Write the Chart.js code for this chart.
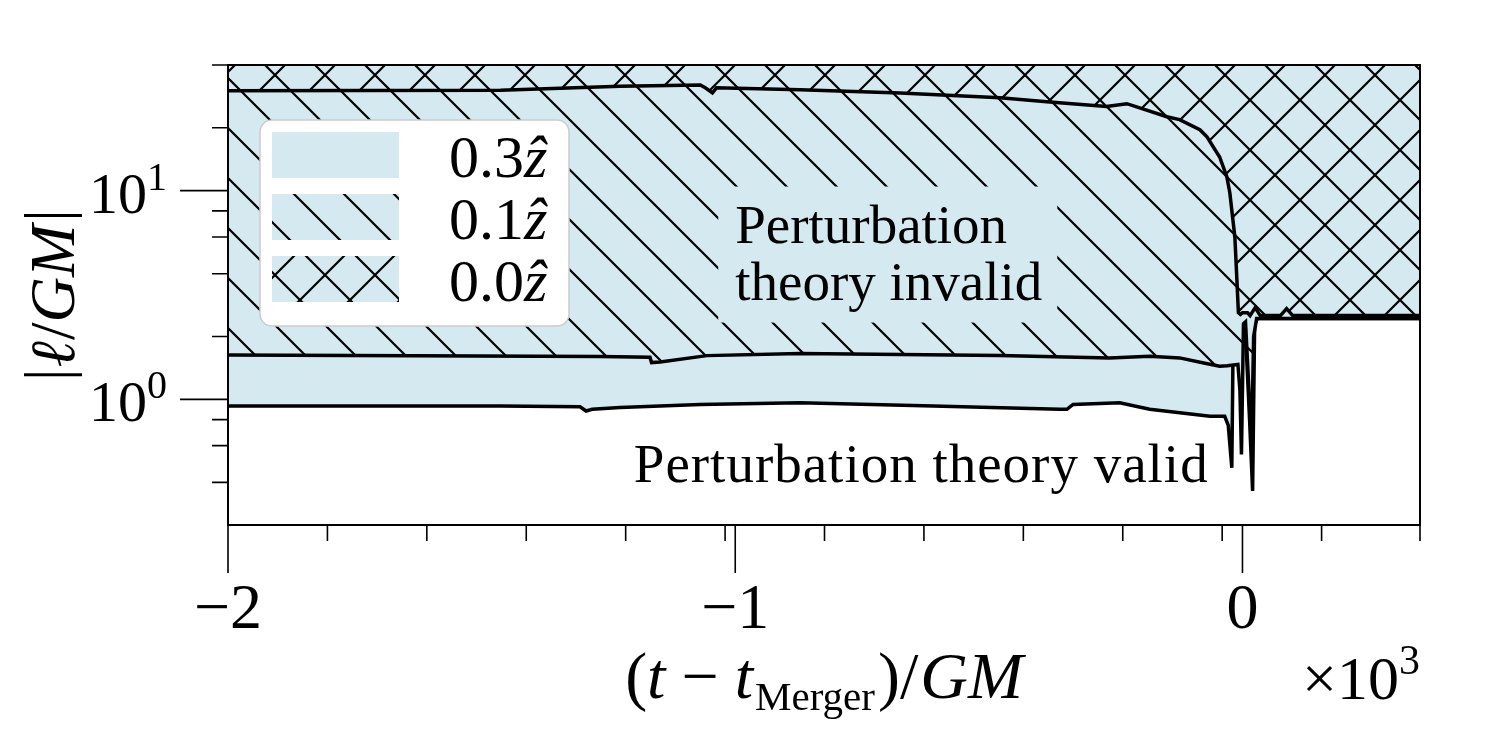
<!DOCTYPE html>
<html>
<head>
<meta charset="utf-8">
<script src="https://cdn.jsdelivr.net/npm/chart.js@4.4.0/dist/chart.umd.min.js"></script>
<style>
  html, body { margin: 0; padding: 0; background: #fff; }
  canvas { display: block; }
</style>
</head>
<body>
<canvas id="chart" width="1485" height="735"></canvas>
<script>
// time after merger, (t - t_merger)/GM, and |l/GM| for the three spin values
const lowerT = [-2000, -1463, -1306, -1294, -1282, -1227, -1069, -872, -610, -360, -346, -334, -242, -183, -98, -64, -35, -28, -21, -18, 5, 14, 20, 24, 30, 350];
const lowerL = [0.929, 0.929, 0.921, 0.879, 0.896, 0.913, 0.946, 0.964, 0.929, 0.896, 0.896, 0.946, 0.962, 0.896, 0.848, 0.829, 0.829, 0.75, 0.47, 2.3, 2.35, 0.8, 0.364, 2.3, 2.44, 2.44];

const middleT = [-2000, -1266, -1168, -1165, -1148, -1056, -872, -675, -478, -262, -183, -124, -74, -45, -30, -9, -5, -2, 2, 6, 12, 18, 22, 28, 350];
const middleL = [1.633, 1.606, 1.59, 1.50, 1.51, 1.62, 1.66, 1.64, 1.62, 1.58, 1.61, 1.58, 1.49, 1.44, 1.45, 1.47, 1.1, 0.545, 2.3, 2.35, 1.2, 0.6, 2.0, 2.44, 2.44];

const upperT = [-2000, -1463, -1227, -1069, -1059, -1045, -1037, -872, -675, -478, -386, -268, -228, -149, -124, -84, -70, -45, -31, -25, -15, -11, -8, -4, 0, 10, 15, 25, 35, 75, 87, 99, 350];
const upperL = [30.1, 30.3, 31.6, 32.1, 31.1, 29.4, 31.1, 30.4, 29.4, 27.9, 26.7, 25.3, 26.1, 22.6, 21.9, 19.6, 18.1, 14.5, 11.7, 9.8, 6.0, 3.75, 2.6, 2.55, 2.6, 2.6, 2.52, 2.75, 2.52, 2.52, 2.72, 2.52, 2.52];

const legendLabels = ['0.3', '0.1', '0.0'];

const xMajorTicks = [-2000, -1000, 0];
const xMajorLabels = ['\u22122', '\u22121', '0'];
const xMinorTicks = [-1804, -1608, -1412, -1216, -1020, -824, -628, -432, -236, -40, 156, 350];
const yMajorTicks = [1, 10];
const yMajorExps = ['0', '1'];
const yMinorTicks = [0.4, 0.6, 0.8, 2, 4, 6, 8, 20, 40];

const BLUE = '#d4e9f0';
const SERIF = '"Liberation Serif", "DejaVu Serif", serif';

function hatch(kind) {
    const c = document.createElement('canvas');
    c.width = 50; c.height = 50;
    const g = c.getContext('2d');
    g.fillStyle = BLUE;
    g.fillRect(0, 0, 50, 50);
    if (kind) {
        g.strokeStyle = '#000';
        g.lineWidth = 2.2;
        g.beginPath();
        g.moveTo(-5, -5); g.lineTo(55, 55);
        g.moveTo(-5, 45); g.lineTo(5, 55);
        g.moveTo(45, -5); g.lineTo(55, 5);
        if (kind === 'x') {
            g.moveTo(-5, 55); g.lineTo(55, -5);
            g.moveTo(-5, 5); g.lineTo(5, -5);
            g.moveTo(45, 55); g.lineTo(55, 45);
        }
        g.stroke();
    }
    return g.createPattern(c, 'repeat');
}

const fills = [BLUE, hatch('\\'), hatch('x')];

const toPoints = (ts, ls) => ts.map((t, i) => ({ x: t, y: ls[i] }));

// draw a run of text pieces: [text, font, dy, extra gap after]
function rich(ctx, parts, x, y, align) {
    let w = 0;
    parts.forEach(p => { ctx.font = p[1]; w += ctx.measureText(p[0]).width + (p[3] || 0); });
    let cx = align === 'right' ? x - w : align === 'center' ? x - w / 2 : x;
    ctx.textAlign = 'left';
    ctx.textBaseline = 'alphabetic';
    parts.forEach(p => {
        ctx.font = p[1];
        ctx.fillText(p[0], cx, y + (p[2] || 0));
        cx += ctx.measureText(p[0]).width + (p[3] || 0);
    });
    return w;
}

const decorations = {
    id: 'decorations',
    afterDraw(chart) {
        const ctx = chart.ctx;
        const a = chart.chartArea;
        const xs = chart.scales.x, ys = chart.scales.y;
        ctx.save();
        ctx.fillStyle = '#000';
        ctx.strokeStyle = '#000';

        // annotation: invalid region
        const ix = xs.getPixelForValue(-1000);
        const iy = ys.getPixelForValue(5.64);
        ctx.font = '55px ' + SERIF;
        const w1 = ctx.measureText('Perturbation').width;
        const w2 = ctx.measureText('theory invalid').width;
        ctx.fillStyle = BLUE;
        ctx.fillRect(ix - 17, iy - 56, Math.max(w1, w2) + 32, 136);
        ctx.fillStyle = '#000';
        ctx.textAlign = 'left';
        ctx.textBaseline = 'alphabetic';
        ctx.fillText('Perturbation', ix, iy);
        ctx.fillText('theory invalid', ix, iy + 57);

        // annotation: valid region
        ctx.letterSpacing = '1px';
        ctx.fillText('Perturbation theory valid', xs.getPixelForValue(-1200), ys.getPixelForValue(0.4));
        ctx.letterSpacing = '0px';

        // legend
        const lx = a.left + 32, ly = a.top + 55;
        ctx.beginPath();
        ctx.roundRect(lx, ly, 309, 206, 12);
        ctx.fillStyle = '#fff';
        ctx.fill();
        ctx.lineWidth = 1.5;
        ctx.strokeStyle = '#cccccc';
        ctx.stroke();
        legendLabels.forEach((lab, i) => {
            const ry = ly + 12 + i * 62;
            ctx.fillStyle = fills[i];
            ctx.fillRect(lx + 12, ry, 127, 46);
            ctx.fillStyle = '#000';
            rich(ctx, [[lab, '60px ' + SERIF], ['\u1E91', 'italic 60px ' + SERIF]], lx + 189, ry + 45, 'left');
        });

        // frame
        ctx.strokeStyle = '#000';
        ctx.lineWidth = 2;
        ctx.strokeRect(a.left, a.top, a.right - a.left, a.bottom - a.top);

        // ticks
        ctx.lineWidth = 1.6;
        ctx.beginPath();
        xMajorTicks.forEach(v => { const p = xs.getPixelForValue(v); ctx.moveTo(p, a.bottom); ctx.lineTo(p, a.bottom + 48); });
        xMinorTicks.forEach(v => { const p = xs.getPixelForValue(v); ctx.moveTo(p, a.bottom); ctx.lineTo(p, a.bottom + 16); });
        yMajorTicks.forEach(v => { const p = ys.getPixelForValue(v); ctx.moveTo(a.left - 48, p); ctx.lineTo(a.left, p); });
        yMinorTicks.forEach(v => { const p = ys.getPixelForValue(v); ctx.moveTo(a.left - 16, p); ctx.lineTo(a.left, p); });
        ctx.stroke();

        // tick labels
        ctx.fillStyle = '#000';
        xMajorTicks.forEach((v, i) => {
            rich(ctx, [[xMajorLabels[i], '64px ' + SERIF]], xs.getPixelForValue(v), a.bottom + 103, 'center');
        });
        yMajorTicks.forEach((v, i) => {
            const p = ys.getPixelForValue(v);
            rich(ctx, [['10', '58px ' + SERIF], [yMajorExps[i], '40px ' + SERIF, -23]], a.left - 61, p + 22, 'right');
        });

        // axis multiplier
        rich(ctx, [['\u00D710', '62px ' + SERIF], ['3', '42px ' + SERIF, -25]], a.right, 699, 'right');

        // x label
        rich(ctx, [
            ['(', '66px ' + SERIF],
            ['t', 'italic 66px ' + SERIF, 0, 16],
            ['\u2212', '66px ' + SERIF, 0, 16],
            ['t', 'italic 66px ' + SERIF, 0, 2],
            ['Merger', '41px ' + SERIF, 12, 3],
            [')/', '66px ' + SERIF, 0, 2],
            ['GM', 'italic 66px ' + SERIF]
        ], (a.left + a.right) / 2, 698, 'center');

        // y label
        ctx.translate(74, (a.top + a.bottom) / 2);
        ctx.rotate(-Math.PI / 2);
        rich(ctx, [
            ['|', '63px ' + SERIF, -6, 1],
            ['\u2113', 'italic 63px ' + SERIF, 0, 1],
            ['/', '63px ' + SERIF],
            ['GM', 'italic 63px ' + SERIF, 0, 3],
            ['|', '63px ' + SERIF, -6]
        ], 0, 0, 'center');
        ctx.restore();
    }
};

const lineStyle = { borderColor: '#000', borderWidth: 3.5, pointRadius: 0, tension: 0, fill: 'end' };

new Chart(document.getElementById('chart').getContext('2d'), {
    type: 'line',
    data: {
        datasets: [
            Object.assign({ label: '0.0', data: toPoints(upperT, upperL), backgroundColor: fills[2], order: 0 }, lineStyle),
            Object.assign({ label: '0.1', data: toPoints(middleT, middleL), backgroundColor: fills[1], order: 1 }, lineStyle),
            Object.assign({ label: '0.3', data: toPoints(lowerT, lowerL), backgroundColor: fills[0], order: 2 }, lineStyle)
        ]
    },
    options: {
        responsive: false,
        animation: false,
        devicePixelRatio: 1,
        layout: { padding: { left: 228, right: 65, top: 65, bottom: 210 } },
        scales: {
            x: { type: 'linear', min: -2000, max: 350, display: false },
            y: { type: 'logarithmic', min: 0.25, max: 40, display: false }
        },
        plugins: {
            legend: { display: false },
            tooltip: { enabled: false }
        }
    },
    plugins: [decorations]
});
</script>
</body>
</html>
